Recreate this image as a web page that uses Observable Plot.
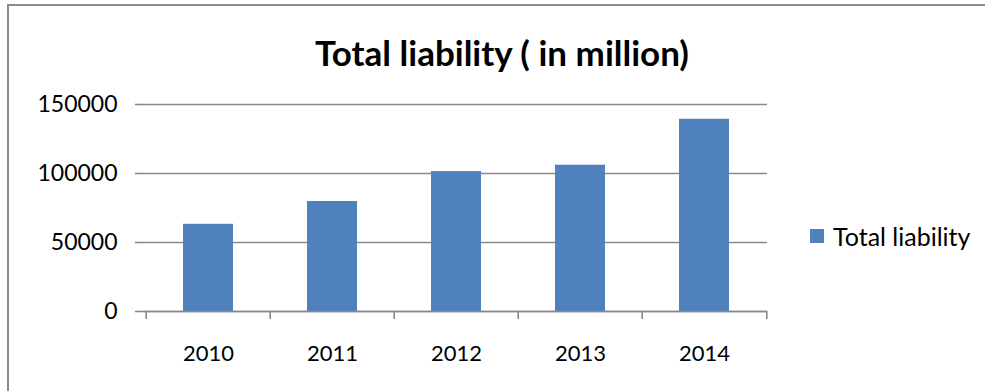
<!DOCTYPE html>
<html><head><meta charset="utf-8">
<script src="https://cdn.jsdelivr.net/npm/d3@7"></script>
<script src="https://cdn.jsdelivr.net/npm/@observablehq/plot@0.6"></script>
<style>
body{margin:0;background:#fff;}
#wrap{position:relative;width:985px;height:391px;overflow:hidden;font-family:Lato,sans-serif;}
#frame{position:absolute;left:7px;top:4px;width:1000px;height:420px;border-left:2px solid #8c8c8c;border-top:2px solid #8c8c8c;pointer-events:none;}
#title{position:absolute;left:0;width:1004px;top:30px;text-align:center;font-weight:bold;font-size:35px;line-height:44px;color:#000;}
#legend{position:absolute;left:810px;top:220px;display:flex;align-items:center;font-size:25px;line-height:32px;color:#000;}
#legend .sw{width:14px;height:14px;background:#4f81bd;margin-right:9px;}
#chart{position:absolute;left:0;top:0;}
</style>
</head><body>
<div id="wrap">
  <div id="chart"></div>
  <div id="title">Total liability ( in million)</div>
  <div id="legend"><div class="sw"></div><span>Total liability</span></div>
  <div id="frame"></div>
</div>
<script>
const years = ["2010", "2011", "2012", "2013", "2014"];
const liability = [63200, 79700, 101400, 106000, 139300];
const yTicks = [0, 50000, 100000, 150000];

const W = 985, H = 391, ML = 144, MR = 218, MT = 104, MB = 80;
const data = years.map((year, i) => ({year, value: liability[i]}));
const step = (W - ML - MR) / years.length;

const chart = Plot.plot({
  width: W, height: H,
  marginLeft: ML, marginRight: MR, marginTop: MT, marginBottom: MB,
  style: {fontFamily: "Lato, sans-serif", background: "transparent", color: "#000"},
  x: {domain: years, paddingInner: 0.6, paddingOuter: 0.3, axis: null},
  y: {domain: [0, 150000], axis: null},
  marks: [
    Plot.gridY(yTicks, {stroke: "#8a8a8a", strokeOpacity: 1, strokeWidth: 1.6}),
    Plot.axisY(yTicks, {label: null, tickSize: 9, tickPadding: 18, fontSize: 23, stroke: "#8a8a8a", strokeWidth: 1.6, tickFormat: d3.format("d"), fill: "#000"}),
    Plot.barY(data, {x: "year", y: "value", fill: "#4f81bd"}),
    Plot.ruleX([0], {stroke: "#8a8a8a", strokeWidth: 1.6}),
    Plot.ruleY([0], {stroke: "#8a8a8a", strokeWidth: 1.6}),
    Plot.ruleX(years, {x: d => d, y1: 0, y2: 0, insetBottom: -8, dx: -step / 2, stroke: "#8a8a8a", strokeWidth: 1.6}),
    Plot.ruleX(years.slice(-1), {x: d => d, y1: 0, y2: 0, insetBottom: -8, dx: step / 2, stroke: "#8a8a8a", strokeWidth: 1.6}),
    Plot.axisX(years, {label: null, tickSize: 0, tickPadding: 34, fontSize: 22, fill: "#000"})
  ]
});
document.getElementById("chart").appendChild(chart);
</script>
</body></html>
